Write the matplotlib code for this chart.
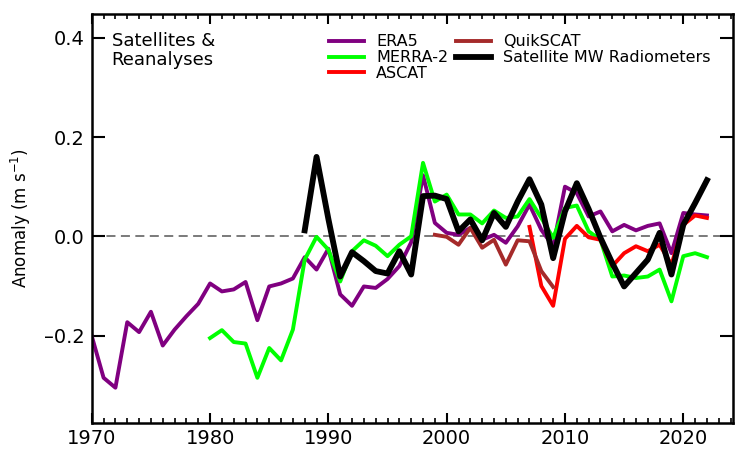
import numpy as np
import matplotlib
matplotlib.use("Agg")
import matplotlib.pyplot as plt

# Annual wind speed anomalies (m s-1)
era5_years = list(range(1970, 2023))
era5 = [-0.201, -0.285, -0.305, -0.173, -0.193, -0.152, -0.220, -0.188, -0.161, -0.136,
        -0.095, -0.111, -0.107, -0.092, -0.169, -0.101, -0.095, -0.085, -0.042, -0.067,
        -0.025, -0.117, -0.140, -0.101, -0.104, -0.086, -0.060, -0.012, 0.123, 0.027,
        0.007, 0.003, 0.017, -0.007, 0.003, -0.013, 0.020, 0.064, 0.013, -0.020,
        0.100, 0.087, 0.040, 0.050, 0.010, 0.023, 0.012, 0.021, 0.026, -0.034,
        0.047, 0.044, 0.042]

merra2_years = list(range(1980, 2023))
merra2 = [-0.205, -0.189, -0.213, -0.216, -0.285, -0.225, -0.250, -0.188, -0.047, -0.001,
          -0.027, -0.091, -0.030, -0.008, -0.019, -0.040, -0.017, 0.000, 0.148, 0.070,
          0.084, 0.044, 0.044, 0.026, 0.052, 0.037, 0.040, 0.075, 0.037, -0.003,
          0.057, 0.062, 0.010, -0.007, -0.081, -0.079, -0.084, -0.081, -0.067, -0.131,
          -0.040, -0.034, -0.042]

ascat_years = list(range(2007, 2023))
ascat = [0.019, -0.100, -0.140, -0.005, 0.021, -0.002, -0.007, -0.060, -0.034, -0.020,
         -0.030, -0.017, -0.057, 0.023, 0.042, 0.037]

quikscat_years = list(range(1999, 2010))
quikscat = [0.003, -0.001, -0.017, 0.017, -0.023, -0.007, -0.057, -0.008, -0.010, -0.070,
            -0.102]

mw_years = list(range(1988, 2023))
mw = [0.012, 0.160, 0.035, -0.081, -0.032, -0.050, -0.070, -0.075, -0.030, -0.077,
      0.081, 0.082, 0.075, 0.010, 0.034, -0.008, 0.047, 0.019, 0.070, 0.115,
      0.064, -0.044, 0.050, 0.107, 0.055, -0.003, -0.054, -0.101, -0.074, -0.047,
      0.007, -0.077, 0.023, 0.067, 0.113]

ytick_values = [-0.2, 0.0, 0.2, 0.4]
ytick_labels = ["\u20130.2", "0.0", "0.2", "0.4"]

fig = plt.figure(figsize=(7.4, 4.49), dpi=100)
ax = fig.add_axes([0.124, 0.058, 0.8665, 0.911])

ax.axhline(0, color="#707070", linestyle="--", linewidth=1.3, dashes=(5, 3), zorder=1)

ax.plot(era5_years, era5, color="purple", linewidth=2.8, label="ERA5")
ax.plot(merra2_years, merra2, color="lime", linewidth=2.8, label="MERRA-2")
ax.plot(ascat_years, ascat, color="red", linewidth=2.8, label="ASCAT")
ax.plot(quikscat_years, quikscat, color="brown", linewidth=2.8, label="QuikSCAT")
ax.plot(mw_years, mw, color="black", linewidth=4.2, label="Satellite MW Radiometers")

ax.set_xlim(1970, 2024.2)
ax.set_ylim(-0.376, 0.448)
ax.set_xticks(range(1970, 2021, 10))
ax.set_xticks(range(1970, 2025), minor=True)
ax.set_yticks(ytick_values)
ax.set_yticklabels(ytick_labels)

ax.tick_params(axis="x", which="major", direction="in", top=True, length=7.5, width=1.5,
               labelsize=14, pad=4)
ax.tick_params(axis="x", which="minor", direction="in", top=True, length=3.5, width=1.2)
ax.tick_params(axis="y", which="major", direction="in", right=True, length=9.5, width=1.5,
               labelsize=14, pad=5)
for s in ax.spines.values():
    s.set_linewidth(1.8)

ax.set_ylabel(r"Anomaly (m s$^{-1}$)", fontsize=12)
ax.yaxis.set_label_coords(-0.092, 0.5)

ax.text(0.031, 0.955, "Satellites &\nReanalyses", transform=ax.transAxes,
        fontsize=13, va="top", ha="left", linespacing=1.05)

ax.legend(loc="upper left", bbox_to_anchor=(0.37, 0.95), ncol=2, frameon=False,
          fontsize=11.5, handlelength=2.2, handletextpad=0.75, columnspacing=0.5,
          labelspacing=0.05, borderpad=0, borderaxespad=0)

fig.savefig("out.png", dpi=100)
